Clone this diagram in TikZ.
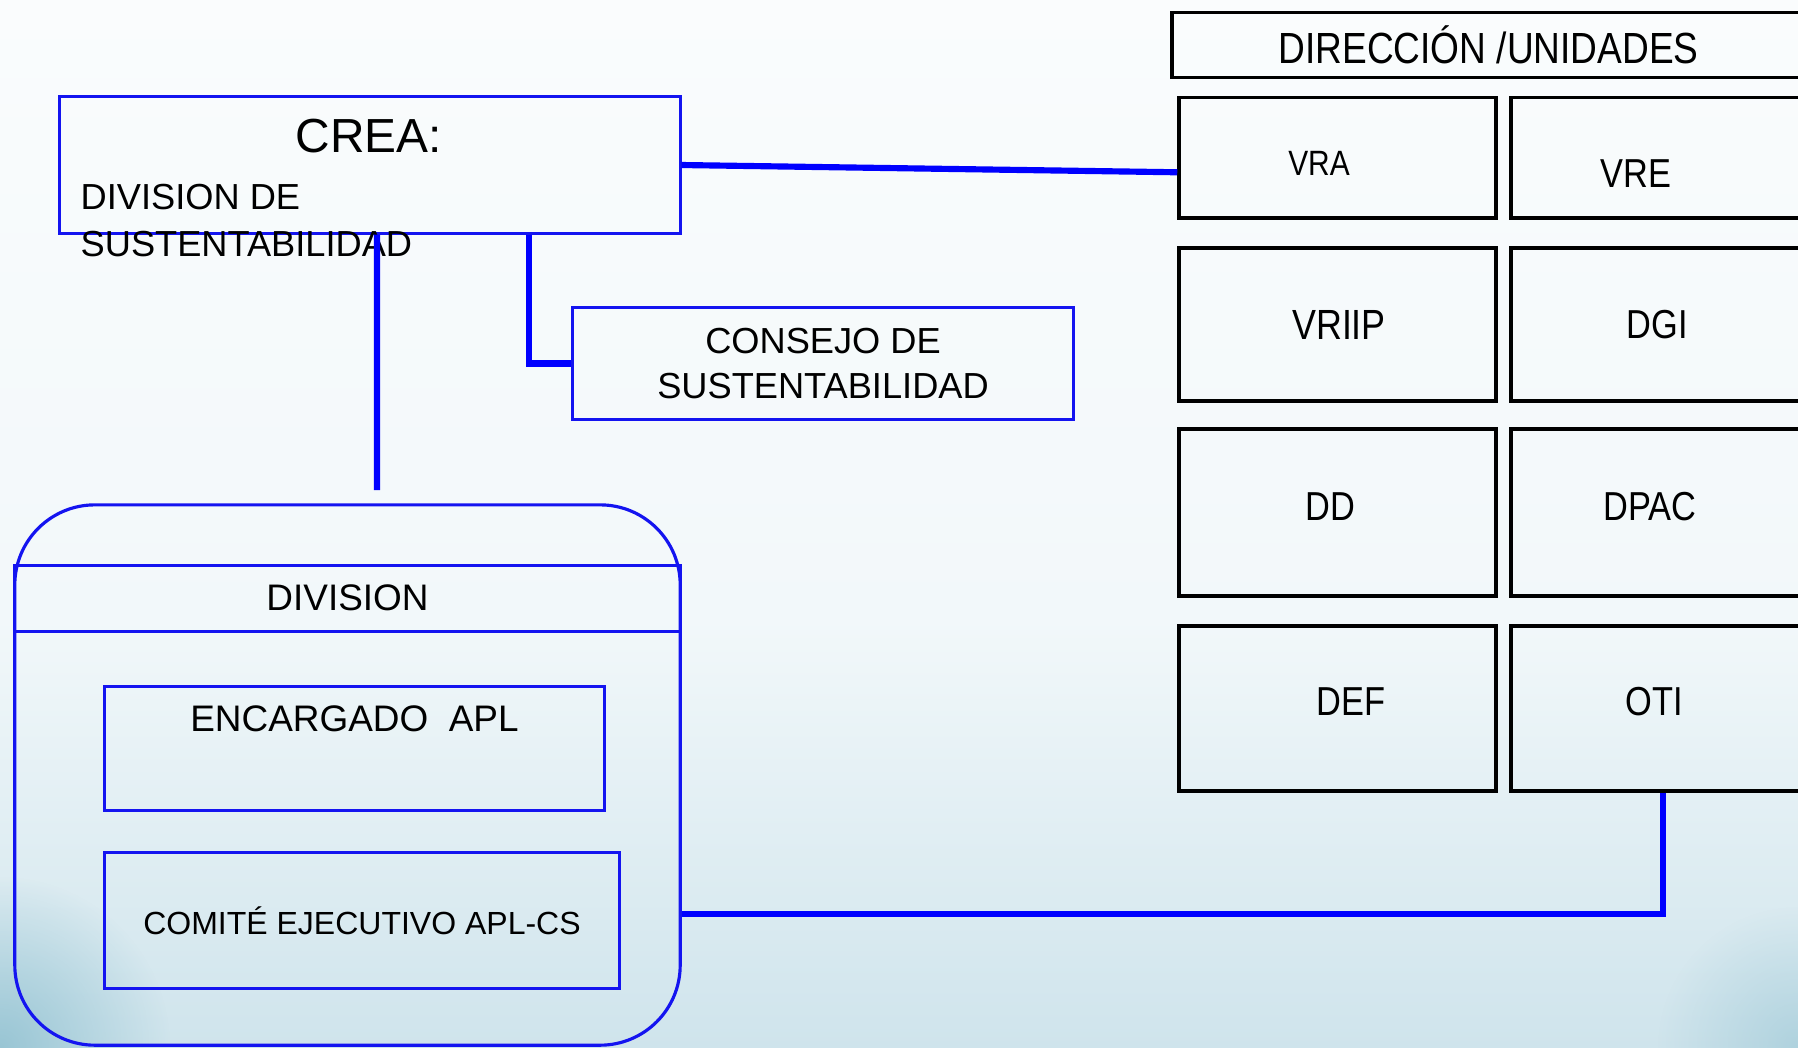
\documentclass[tikz,border=0pt]{standalone}
\usepackage{fontspec}
\setmainfont{Liberation Sans}
\newfontfamily\narrowf[FakeStretch=0.85]{Liberation Sans}
\usetikzlibrary{calc,fadings}
\definecolor{bgtop}{HTML}{FAFCFD}
\definecolor{bgmid}{HTML}{F2F8FA}
\definecolor{bgbot}{HTML}{CFE4EC}
\definecolor{bgdark}{HTML}{8FC0D0}
\definecolor{lnblue}{HTML}{0000FF}
\definecolor{bxblue}{HTML}{1414F0}
\tikzfading[name=cornerfade, inner color=transparent!0, outer color=transparent!100]
\begin{document}
\begin{tikzpicture}[x=0.01cm,y=-0.01cm,
  bluebox/.style={draw=bxblue, line width=0.85pt, rectangle, inner sep=0pt},
  blackbox/.style={draw=black, line width=0.95pt, rectangle, inner sep=0pt},
  conn/.style={draw=lnblue, line width=1.75pt},
  lbl/.style={inner sep=0pt},
  body/.style={font=\fontsize{10.3}{12.8}\selectfont},
  gridtxt/.style={inner sep=0pt, font=\narrowf\fontsize{11.5}{13}\selectfont}]
\useasboundingbox (0,0) rectangle (1798,1047);
\shade[top color=bgtop, bottom color=bgmid] (0,0) rectangle (1798,620);
\shade[top color=bgmid, bottom color=bgbot] (0,619) rectangle (1798,1047);
\clip (0,0) rectangle (1798,1047);
\fill[bgdark, path fading=cornerfade, opacity=0.85] (0,1047) circle (1.7cm);
\fill[bgdark, path fading=cornerfade, opacity=0.5] (1798,1047) circle (1.4cm);

% CREA box
\node[bluebox, minimum width=6.2cm, minimum height=1.36cm] (crea) at (370,165) {};
\node[lbl, font=\fontsize{13.6}{16}\selectfont] (creat) at (369,136) {CREA:};
\node[lbl, body, anchor=west] (creaa) at (80,197) {DIVISION DE};
\node[lbl, body, anchor=west] (creab) at (80,244) {SUSTENTABILIDAD};

% Consejo
\node[bluebox, body, align=center, minimum width=5.0cm, minimum height=1.11cm] (consejo) at (823,363.5) {CONSEJO DE\\SUSTENTABILIDAD};

% Direccion header
\node[blackbox, minimum width=6.33cm, minimum height=0.645cm, font=\narrowf\fontsize{12.4}{14}\selectfont] (dir) at (1488.5,45) {DIRECCIÓN /UNIDADES};

% Grid of units
\node[blackbox, minimum width=3.17cm, minimum height=1.205cm,
  label={[gridtxt, font=\narrowf\fontsize{10}{12}\selectfont, xshift=-0.185cm, yshift=-0.06cm]center:VRA}] (vra) at (1337.5,157.75) {};
\node[blackbox, minimum width=2.94cm, minimum height=1.205cm,
  label={[gridtxt, xshift=-0.22cm, yshift=-0.16cm]center:VRE}] (vre) at (1658,157.75) {};
\node[blackbox, minimum width=3.17cm, minimum height=1.53cm,
  label={[gridtxt, font=\narrowf\fontsize{12}{14}\selectfont, xshift=0.015cm]center:VRIIP}] (vriip) at (1337.5,324.5) {};
\node[blackbox, minimum width=2.94cm, minimum height=1.53cm,
  label={[gridtxt, xshift=-0.01cm]center:DGI}] (dgi) at (1658,324.5) {};
\node[blackbox, minimum width=3.17cm, minimum height=1.67cm,
  label={[gridtxt, xshift=-0.075cm, yshift=0.055cm]center:DD}] (dd) at (1337.5,512.5) {};
\node[blackbox, minimum width=2.94cm, minimum height=1.67cm,
  label={[gridtxt, xshift=-0.08cm, yshift=0.055cm]center:DPAC}] (dpac) at (1658,512.5) {};
\node[blackbox, minimum width=3.17cm, minimum height=1.65cm,
  label={[gridtxt, xshift=0.135cm, yshift=0.065cm]center:DEF}] (def) at (1337.5,708.5) {};
\node[blackbox, minimum width=2.94cm, minimum height=1.65cm,
  label={[gridtxt, xshift=-0.04cm, yshift=0.065cm]center:OTI}] (oti) at (1658,708.5) {};

% Division group
\node[draw=bxblue, line width=0.9pt, rounded corners=0.8cm, inner sep=0pt,
  minimum width=6.65cm, minimum height=5.4cm] (divbox) at (347.5,775) {};
\node[bluebox, minimum width=6.65cm, minimum height=0.66cm, font=\fontsize{10.5}{12}\selectfont] (divhead) at (347.5,598) {DIVISION};
\node[bluebox, minimum width=4.99cm, minimum height=1.23cm,
  label={[lbl, font=\fontsize{10.5}{12}\selectfont, yshift=0.295cm]center:ENCARGADO\ \ APL}] (encargado) at (354.5,748.5) {};
\node[bluebox, minimum width=5.14cm, minimum height=1.35cm, font=\fontsize{9.1}{11}\selectfont] (comite) at (362,920.5) {COMITÉ EJECUTIVO APL-CS};

% Connectors
\coordinate (divtop) at (377,490);
\draw[conn] (crea.east) -- ([yshift=-0.145cm]vra.west);
\draw[conn] ([xshift=0.07cm]crea.south) -- (divtop);
\draw[conn] ([xshift=1.59cm]crea.south) |- (consejo.west);
\draw[conn] ([xshift=0.05cm]oti.south) |- ([yshift=-1.39cm]divbox.east);
\end{tikzpicture}
\end{document}
